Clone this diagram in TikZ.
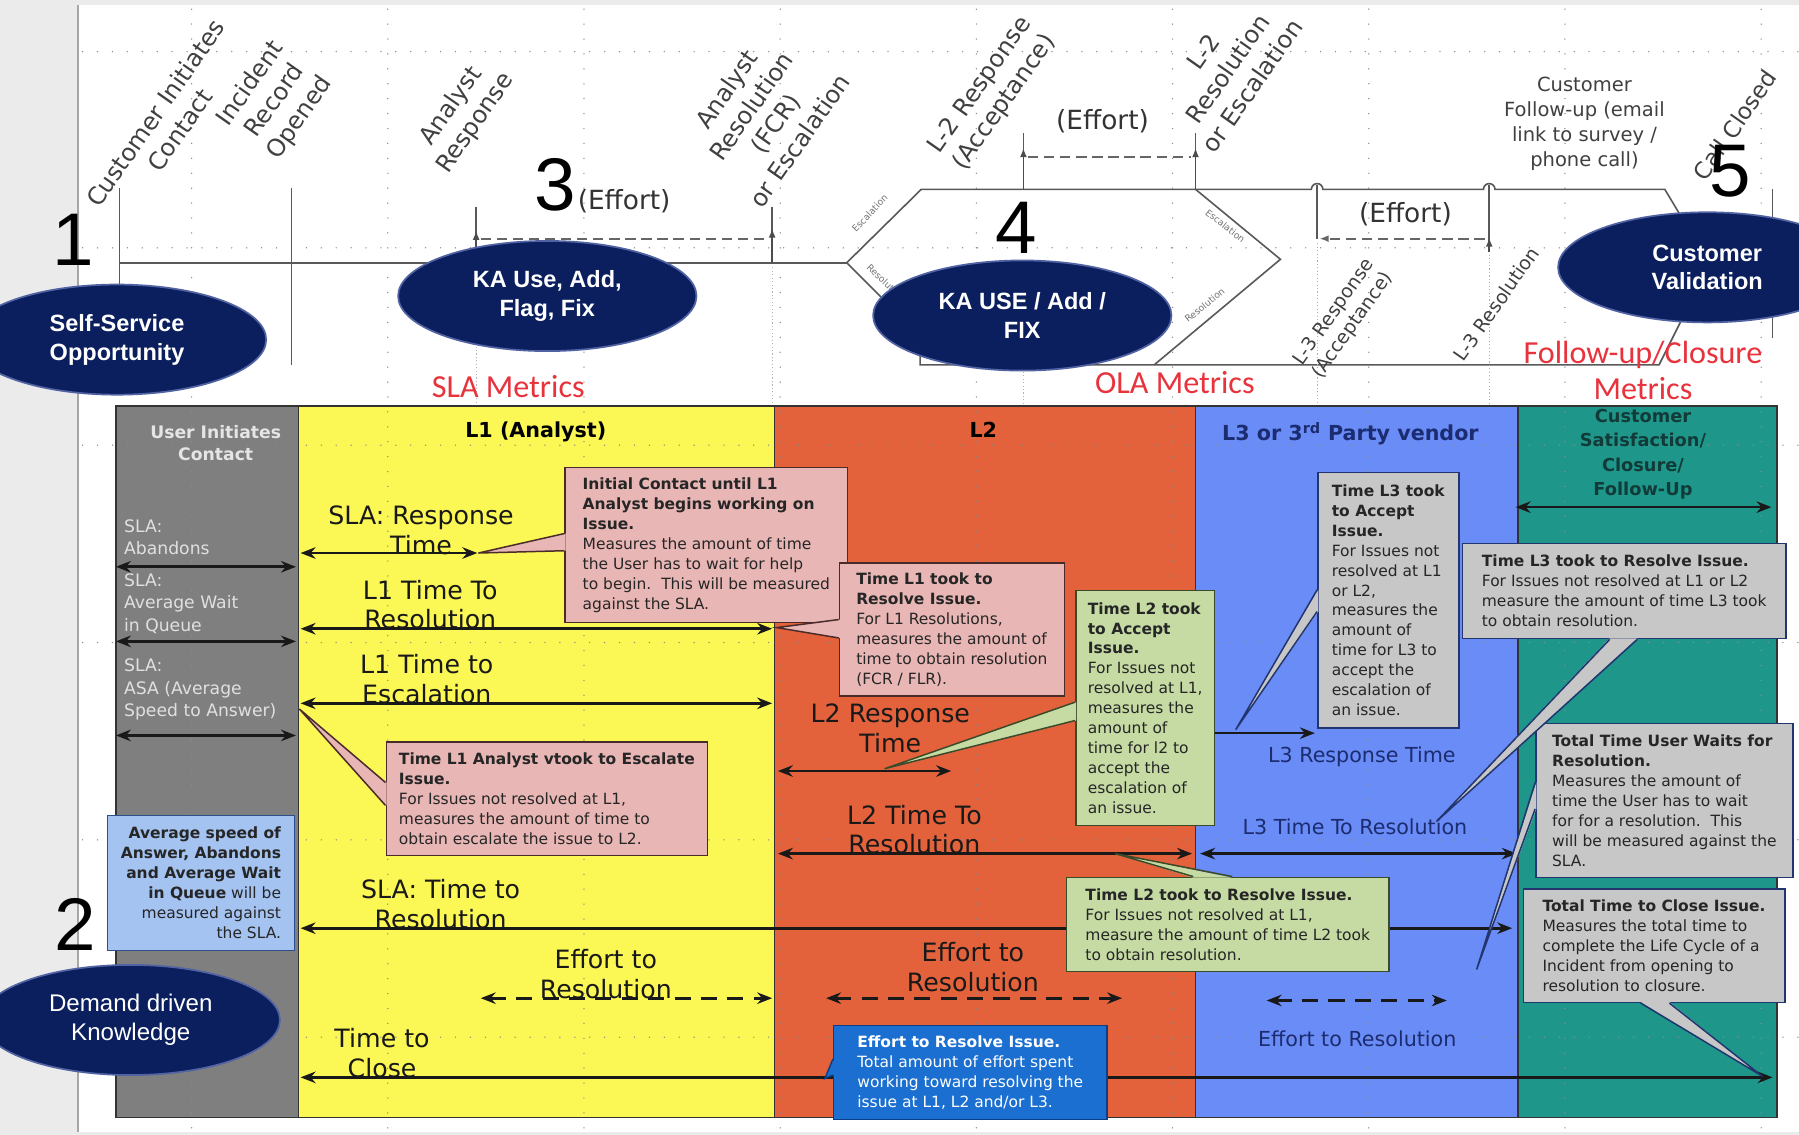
\documentclass[tikz,border=0pt]{standalone}
\usepackage{fontspec}
\setmainfont{DejaVu Sans}
\newfontfamily\arialfont{Liberation Sans}
\newfontfamily\calibrifont{Carlito}
\usetikzlibrary{arrows.meta,calc,shapes.geometric}

\definecolor{navyfill}{HTML}{0B1F5E}
\definecolor{navyline}{HTML}{5263A3}
\definecolor{greycol}{HTML}{7F7F7F}
\definecolor{yellowcol}{HTML}{FBF755}
\definecolor{orangecol}{HTML}{E3623B}
\definecolor{bluecol}{HTML}{6A8CF7}
\definecolor{tealcol}{HTML}{1E978A}
\definecolor{pinkfill}{HTML}{E8B6B4}
\definecolor{pinkline}{HTML}{4A2B2B}
\definecolor{greenfill}{HTML}{C6DBA4}
\definecolor{greenline}{HTML}{3B4B2A}
\definecolor{greyfill}{HTML}{C7C7C7}
\definecolor{greyline}{HTML}{22356E}
\definecolor{lbluefill}{HTML}{A4C3F1}
\definecolor{lblueline}{HTML}{2E4F8E}
\definecolor{bluefill}{HTML}{1B6FD0}
\definecolor{blueline}{HTML}{0D3D85}
\definecolor{metricred}{HTML}{E8323C}
\definecolor{lthreetext}{HTML}{1B2C70}
\definecolor{tealtext}{HTML}{123A38}

\newcommand{\bld}[1]{\textbf{#1}}

\begin{document}
\begin{tikzpicture}[x=1pt,y=-1pt,>={Stealth[length=13pt,width=10pt]},
  griddots/.style={black!45,line width=1.3pt,line cap=round,dash pattern=on 0pt off 13pt},
  tline/.style={black!65,line width=1.4pt},
  effortline/.style={black!60,line width=1.6pt,dash pattern=on 9pt off 5pt},
  uptip/.style={-{Latex[length=8pt,width=6pt]},black!70,line width=1.4pt},
  rotlab/.style={rotate=55,align=center,inner sep=0pt,text=black!75,font=\fontsize{21}{26}\selectfont},
  smallrot/.style={inner sep=0pt,text=black!55,font=\fontsize{8}{9}\selectfont},
  effortlab/.style={inner sep=0pt,text=black!80,font=\fontsize{23}{26}\selectfont},
  bubble/.style={ellipse,draw=navyline,fill=navyfill,line width=1.5pt,minimum width=260pt,minimum height=96pt,inner sep=0pt,align=center,text=white,font=\arialfont\bfseries\fontsize{20.5}{25}\selectfont},
  bignum/.style={inner sep=0pt,font=\arialfont\fontsize{65}{65}\selectfont},
  metric/.style={inner sep=0pt,align=center,text=metricred,font=\calibrifont\fontsize{28}{31}\selectfont},
  colhead/.style={inner sep=0pt,align=center,font=\bfseries\fontsize{18}{22}\selectfont},
  bigtext/.style={inner sep=0pt,align=center,text=black!90,font=\fontsize{22}{26}\selectfont},
  lthreelab/.style={inner sep=0pt,text=lthreetext,font=\fontsize{18}{22}\selectfont},
  slatext/.style={inner sep=0pt,anchor=west,align=left,text=black!12,font=\fontsize{15}{19.5}\selectfont},
  dbl/.style={<->,line width=2.3pt,black!90},
  dbldash/.style={<->,line width=2.3pt,black!90,dash pattern=on 14pt off 9pt},
  callout/.style={draw,line width=1.3pt,anchor=north west,align=left,inner sep=4pt,text=black!85,font=\fontsize{13.5}{17.4}\selectfont},
  pinkbox/.style={callout,fill=pinkfill,draw=pinkline},
  greenbox/.style={callout,fill=greenfill,draw=greenline},
  greybox/.style={callout,fill=greyfill,draw=greyline},
  lbluebox/.style={callout,fill=lbluefill,draw=lblueline,align=right},
  bluebox/.style={callout,fill=bluefill,draw=blueline,text=white},
  wedgeline/.style={line width=1.3pt}]

  \useasboundingbox (0,0) rectangle (1568,989);

  % Background
  \fill[black!8] (0,0) rectangle (1568,989);
  \fill[white] (69,4) rectangle (1568,987);
  \draw[black!35,line width=1pt] (68,4) -- (68,987);

  % Columns of the chart
  \fill[greycol] (101,354) rectangle (260,974);
  \fill[yellowcol] (260,354) rectangle (675,974);
  \fill[orangecol] (675,354) rectangle (1042,974);
  \fill[bluecol] (1042,354) rectangle (1323,974);
  \fill[tealcol] (1323,354) rectangle (1549,974);

  % Dotted grid
  \foreach \gy in {45,216,388,560,732,904}
    \draw[griddots] (72,\gy) -- (1568,\gy);
  \foreach \gx in {167,338,509,680,851,1022,1193,1364,1535}
    \draw[griddots] (\gx,8) -- (\gx,985);

  \draw[black!80,line width=1.3pt] (101,354) rectangle (1549,974);
  \foreach \cx in {260,675,1042,1323}
    \draw[black!80,line width=1.3pt] (\cx,354) -- (\cx,974);

  % Column headers
  \node[colhead,text=black!10,font=\bfseries\fontsize{15}{19}\selectfont] (uic) at (188,386) {User Initiates\\Contact};
  \node[colhead] (lonehead) at (467,376) {L1 (Analyst)};
  \node[colhead] (ltwohead) at (857,375) {L2};
  \node[colhead,text=lthreetext] (lthreehead) at (1177,378) {L3 or 3\textsuperscript{rd} Party vendor};
  \node[colhead,text=tealtext,font=\bfseries\fontsize{15.5}{21.3}\selectfont] (csat) at (1432,396) {Customer\\Satisfaction/\\Closure/\\Follow-Up};

  % Grey column
  \node[slatext] (sab) at (108,468) {SLA:\\Abandons};
  \node[slatext] (saw) at (108,526) {SLA:\\Average Wait\\in Queue};
  \node[slatext] (sasa) at (108,601) {SLA:\\ASA (Average\\Speed to Answer)};

  % Texts above the arrows
  \node[bigtext] (srt) at (367,462) {SLA: Response\\Time};
  \node[bigtext] (lonetr) at (375,527) {L1 Time To\\Resolution};
  \node[bigtext] (lonete) at (372,592) {L1 Time to\\Escalation};
  \node[bigtext] (slatr) at (384,788) {SLA: Time to\\Resolution};
  \node[bigtext] (effone) at (528,849) {Effort to\\Resolution};
  \node[bigtext] (ttc) at (333,918) {Time to\\Close};
  \node[bigtext] (ltwort) at (776,635) {L2 Response\\Time};
  \node[bigtext] (ltwotr) at (797,723) {L2 Time To\\Resolution};
  \node[bigtext] (efftwo) at (848,843) {Effort to\\Resolution};
  \node[lthreelab] (lthreert) at (1187,660) {L3 Response Time};
  \node[lthreelab] (lthreetr) at (1181,721) {L3 Time To Resolution};
  \node[lthreelab] (effthree) at (1183,905) {Effort to Resolution};

  % Arrow ends
  \coordinate (ab-l) at (101,494);  \coordinate (ab-r) at (258,494);
  \coordinate (aw-l) at (101,559);  \coordinate (aw-r) at (258,559);
  \coordinate (asa-l) at (101,641); \coordinate (asa-r) at (258,641);
  \coordinate (rt-l) at (262,482);  \coordinate (rt-r) at (416,482);
  \coordinate (ltr-l) at (262,548); \coordinate (ltr-r) at (673,548);
  \coordinate (lte-l) at (262,613); \coordinate (lte-r) at (673,613);
  \coordinate (str-l) at (262,809); \coordinate (str-r) at (1318,809);
  \coordinate (efa-l) at (419,870); \coordinate (efa-r) at (673,870);
  \coordinate (cls-l) at (262,939); \coordinate (cls-r) at (1545,939);
  \coordinate (trt-l) at (678,672); \coordinate (trt-r) at (829,672);
  \coordinate (ttr-l) at (678,744); \coordinate (ttr-r) at (1039,744);
  \coordinate (efb-l) at (720,870); \coordinate (efb-r) at (978,870);
  \coordinate (hrt-l) at (1045,639); \coordinate (hrt-r) at (1146,639);
  \coordinate (htr-l) at (1046,744); \coordinate (htr-r) at (1322,744);
  \coordinate (efc-l) at (1104,872); \coordinate (efc-r) at (1261,872);
  \coordinate (fu-l) at (1321,442); \coordinate (fu-r) at (1544,442);

  % Arrows
  \draw[dbl] (ab-l) -- (ab-r);
  \draw[dbl] (aw-l) -- (aw-r);
  \draw[dbl] (asa-l) -- (asa-r);
  \draw[dbl] (rt-l) -- (rt-r);
  \draw[dbl] (ltr-l) -- (ltr-r);
  \draw[dbl] (lte-l) -- (lte-r);
  \draw[dbl] (str-l) -- (str-r);
  \draw[dbldash] (efa-l) -- (efa-r);
  \draw[dbl] (cls-l) -- (cls-r);
  \draw[dbl] (trt-l) -- (trt-r);
  \draw[dbl] (ttr-l) -- (ttr-r);
  \draw[dbldash] (efb-l) -- (efb-r);
  \draw[dbl] (hrt-l) -- (hrt-r);
  \draw[dbl] (htr-l) -- (htr-r);
  \draw[dbldash] (efc-l) -- (efc-r);
  \draw[dbl] (fu-l) -- (fu-r);

  % Callouts
  \node[pinkbox,minimum width=246pt,minimum height=135pt] (cone) at (492,407)
    {\bld{Initial Contact until L1}\\\bld{Analyst begins working on}\\\bld{Issue.}\\Measures the amount of time\\the User has to wait for help\\to begin.\ \ This will be measured\\against the SLA.};
  \node[pinkbox,minimum width=196pt,minimum height=116pt] (ctwo) at (731,490)
    {\bld{Time L1 took to}\\\bld{Resolve Issue.}\\For L1 Resolutions,\\measures the amount of\\time to obtain resolution\\(FCR / FLR).};
  \node[pinkbox,minimum width=280pt,minimum height=99pt] (cthree) at (336,646)
    {\bld{Time L1 Analyst vtook to Escalate}\\\bld{Issue.}\\For Issues not resolved at L1,\\measures the amount of time to\\obtain escalate the issue to L2.};
  \node[greenbox,minimum width=121pt,minimum height=205pt] (gone) at (937,514)
    {\bld{Time L2 took}\\\bld{to Accept}\\\bld{Issue.}\\For Issues not\\resolved at L1,\\measures the\\amount of\\time for l2 to\\accept the\\escalation of\\an issue.};
  \node[greenbox,minimum width=281pt,minimum height=82pt] (gtwo) at (929,764)
    {\bld{Time L2 took to Resolve Issue.}\\For Issues not resolved at L1,\\measure the amount of time L2 took\\to obtain resolution.};
  \node[bluebox,minimum width=238pt,minimum height=82pt] (bone) at (726,893)
    {\bld{Effort to Resolve Issue.}\\Total amount of effort spent\\working toward resolving the\\issue at L1, L2 and/or L3.};
  \node[lbluebox,minimum width=163pt,minimum height=118pt] (lbone) at (93,710)
    {\bld{Average speed of}\\\bld{Answer, Abandons}\\\bld{and Average Wait}\\\bld{in Queue} will be\\measured against\\the SLA.};
  \node[greybox,minimum width=123pt,minimum height=223pt] (sone) at (1148,411)
    {\bld{Time L3 took}\\\bld{to Accept}\\\bld{Issue.}\\For Issues not\\resolved at L1\\or L2,\\measures the\\amount of\\time for L3 to\\accept the\\escalation of\\an issue.};
  \node[greybox,minimum width=282pt,minimum height=83pt] (stwo) at (1274,473)
    {\bld{Time L3 took to Resolve Issue.}\\For Issues not resolved at L1 or L2\\measure the amount of time L3 took\\to obtain resolution.};
  \node[greybox,minimum width=224pt,minimum height=134pt] (sthree) at (1338,630)
    {\bld{Total Time User Waits for}\\\bld{Resolution.}\\Measures the amount of\\time the User has to wait\\for for a resolution.\ \ This\\will be measured against the\\SLA.};
  \node[greybox,minimum width=228pt,minimum height=99pt] (sfour) at (1327,774)
    {\bld{Total Time to Close Issue.}\\Measures the total time to\\complete the Life Cycle of a\\Incident from opening to\\resolution to closure.};

  % Callout pointers
  \coordinate (pone) at (417,482);
  \coordinate (ptwo) at (677,547);
  \coordinate (pthree) at (261,618);
  \coordinate (pfour) at (771,670);
  \coordinate (pfive) at (972,744);
  \coordinate (psix) at (1077,636);
  \coordinate (pseven) at (1252,716);
  \coordinate (peight) at (1287,845);
  \coordinate (pnine) at (1536,938);
  \coordinate (pten) at (719,940);

  \fill[pinkfill] ($(cone.north west)+(1,58)$) -- (pone) -- ($(cone.north west)+(1,73)$) -- cycle;
  \draw[pinkline,wedgeline] ($(cone.north west)+(0,58)$) -- (pone) -- ($(cone.north west)+(0,73)$);
  \fill[pinkfill] ($(ctwo.north west)+(1,50)$) -- (ptwo) -- ($(ctwo.north west)+(1,66)$) -- cycle;
  \draw[pinkline,wedgeline] ($(ctwo.north west)+(0,50)$) -- (ptwo) -- ($(ctwo.north west)+(0,66)$);
  \fill[pinkfill] ($(cthree.north west)+(1,36)$) -- (pthree) -- ($(cthree.north west)+(1,56)$) -- cycle;
  \draw[pinkline,wedgeline] ($(cthree.north west)+(0,36)$) -- (pthree) -- ($(cthree.north west)+(0,56)$);
  \fill[greenfill] ($(gone.north west)+(1,98)$) -- (pfour) -- ($(gone.north west)+(1,114)$) -- cycle;
  \draw[greenline,wedgeline] ($(gone.north west)+(0,98)$) -- (pfour) -- ($(gone.north west)+(0,114)$);
  \fill[greenfill] ($(gtwo.north west)+(111,1)$) -- (pfive) -- ($(gtwo.north west)+(145,1)$) -- cycle;
  \draw[greenline,wedgeline] ($(gtwo.north west)+(111,0)$) -- (pfive) -- ($(gtwo.north west)+(145,0)$);
  \fill[greyfill] ($(sone.north west)+(1,103)$) -- (psix) -- ($(sone.north west)+(1,122)$) -- cycle;
  \draw[greyline,wedgeline] ($(sone.north west)+(0,103)$) -- (psix) -- ($(sone.north west)+(0,122)$);
  \fill[greyfill] ($(stwo.south west)+(129,-1)$) -- (pseven) -- ($(stwo.south west)+(153,-1)$) -- cycle;
  \draw[greyline,wedgeline] ($(stwo.south west)+(129,0)$) -- (pseven) -- ($(stwo.south west)+(153,0)$);
  \fill[greyfill] ($(sthree.north west)+(1,52)$) -- (peight) -- ($(sthree.north west)+(1,75)$) -- cycle;
  \draw[greyline,wedgeline] ($(sthree.north west)+(0,52)$) -- (peight) -- ($(sthree.north west)+(0,75)$);
  \fill[greyfill] ($(sfour.south west)+(103,-1)$) -- (pnine) -- ($(sfour.south west)+(128,-1)$) -- cycle;
  \draw[greyline,wedgeline] ($(sfour.south west)+(103,0)$) -- (pnine) -- ($(sfour.south west)+(128,0)$);
  \fill[bluefill] ($(bone.north west)+(1,30)$) -- (pten) -- ($(bone.north west)+(1,44)$) -- cycle;
  \draw[blueline,wedgeline] ($(bone.north west)+(0,30)$) -- (pten) -- ($(bone.north west)+(0,44)$);

  % Timeline
  \draw[tline] (104,164) -- (104,262);
  \draw[tline] (104,229) -- (738,229);
  \draw[tline] (254,164) -- (254,318);
  \draw[tline] (415,180) -- (415,229);
  \draw[tline] (673,180) -- (673,229);
  \draw[uptip] (415,229) -- (415,201);
  \draw[uptip] (673,229) -- (673,199);
  \draw[effortline] (419,208) -- (669,208);
  \draw[tline] (738,229) -- (803,165) -- (1143,165) arc[start angle=180,end angle=360,radius=5]
    -- (1293,165) arc[start angle=180,end angle=360,radius=5] -- (1451,165) -- (1490,230)
    -- (1446,318) -- (802,318) -- (802,293) -- cycle;
  \draw[tline] (1042,165) -- (1116,226) -- (1006,318);
  \draw[tline] (892,116) -- (892,165);
  \draw[tline] (1042,116) -- (1042,165);
  \draw[uptip] (892,165) -- (892,129);
  \draw[uptip] (1042,165) -- (1042,129);
  \draw[effortline] (896,137) -- (1038,137);
  \draw[tline] (1148,161) -- (1148,208);
  \draw[tline] (1298,161) -- (1298,212);
  \draw[effortline,-{Latex[length=8pt,width=6pt]}] (1294,208) -- (1150,208);
  \draw[uptip] (1298,220) -- (1298,207);
  \draw[tline] (1545,165) -- (1545,295);
  \foreach \mx in {415,673}
    \draw[black!30,line width=1pt,dotted] (\mx,233) -- (\mx,352);
  \draw[black!30,line width=1pt,dotted] (892,321) -- (892,352);
  \draw[black!30,line width=1pt,dotted] (1148,212) -- (1148,352);
  \draw[black!30,line width=1pt,dotted] (1298,222) -- (1298,352);

  % Edge labels
  \node[smallrot,rotate=47] (escone) at (758,186) {Escalation};
  \node[smallrot,rotate=-44] (resone) at (772,246) {Resolution};
  \node[smallrot,rotate=-38] (esctwo) at (1068,197) {Escalation};
  \node[smallrot,rotate=39] (restwo) at (1050,266) {Resolution};

  % Milestones
  \node[rotlab] (cic) at (146,106) {Customer Initiates\\Contact};
  \node[rotlab] (iro) at (240,88) {Incident\\Record\\Opened};
  \node[rotlab] (anr) at (404,100) {Analyst\\Response};
  \node[rotlab] (arfe) at (665,100) {Analyst\\Resolution\\(FCR)\\or Escalation};
  \node[rotlab] (ltwora) at (865,82) {L-2 Response\\(Acceptance)};
  \node[rotlab] (ltwore) at (1070,60) {L-2\\Resolution\\or Escalation};
  \node[rotlab,font=\fontsize{20}{24}\selectfont] (cclo) at (1512,109) {Call Closed};
  \node[rotlab,font=\fontsize{16.5}{20}\selectfont] (lthreera) at (1171,278) {L-3 Response\\(Acceptance)};
  \node[rotlab,font=\fontsize{16.5}{20}\selectfont] (lthreeres) at (1304,265) {L-3 Resolution};
  \node[inner sep=0pt,align=center,text=black!75,font=\fontsize{17}{21.7}\selectfont] (cfu) at (1381,108)
    {Customer\\Follow-up (email\\link to survey /\\phone call)};
  \node[effortlab] (effa) at (544,175) {(Effort)};
  \node[effortlab] (effb) at (961,106) {(Effort)};
  \node[effortlab] (effc) at (1225,187) {(Effort)};

  % Metrics
  \node[metric] (slam) at (443,337) {SLA Metrics};
  \node[metric] (olam) at (1024,333) {OLA Metrics};
  \node[metric] (fcm) at (1432,323) {Follow-up/Closure\\Metrics};

  % Bubbles
  \node[bubble] (sso) at (102,296) {Self-Service\\Opportunity};
  \node[bubble] (kaf) at (477,258) {KA Use, Add,\\Flag, Fix};
  \node[bubble] (kuf) at (891,275) {KA USE / Add /\\FIX};
  \node[bubble] (cval) at (1488,233) {Customer\\Validation};
  \node[bubble,font=\arialfont\fontsize{21}{25}\selectfont] (ddk) at (114,889) {Demand driven\\Knowledge};

  % Numbers
  \node[bignum] (none) at (64,209) {1};
  \node[bignum] (ntwo) at (66,806) {2};
  \node[bignum] (nthree) at (484,161) {3};
  \node[bignum] (nfour) at (886,199) {4};
  \node[bignum] (nfive) at (1508,149) {5};
\end{tikzpicture}
\end{document}
